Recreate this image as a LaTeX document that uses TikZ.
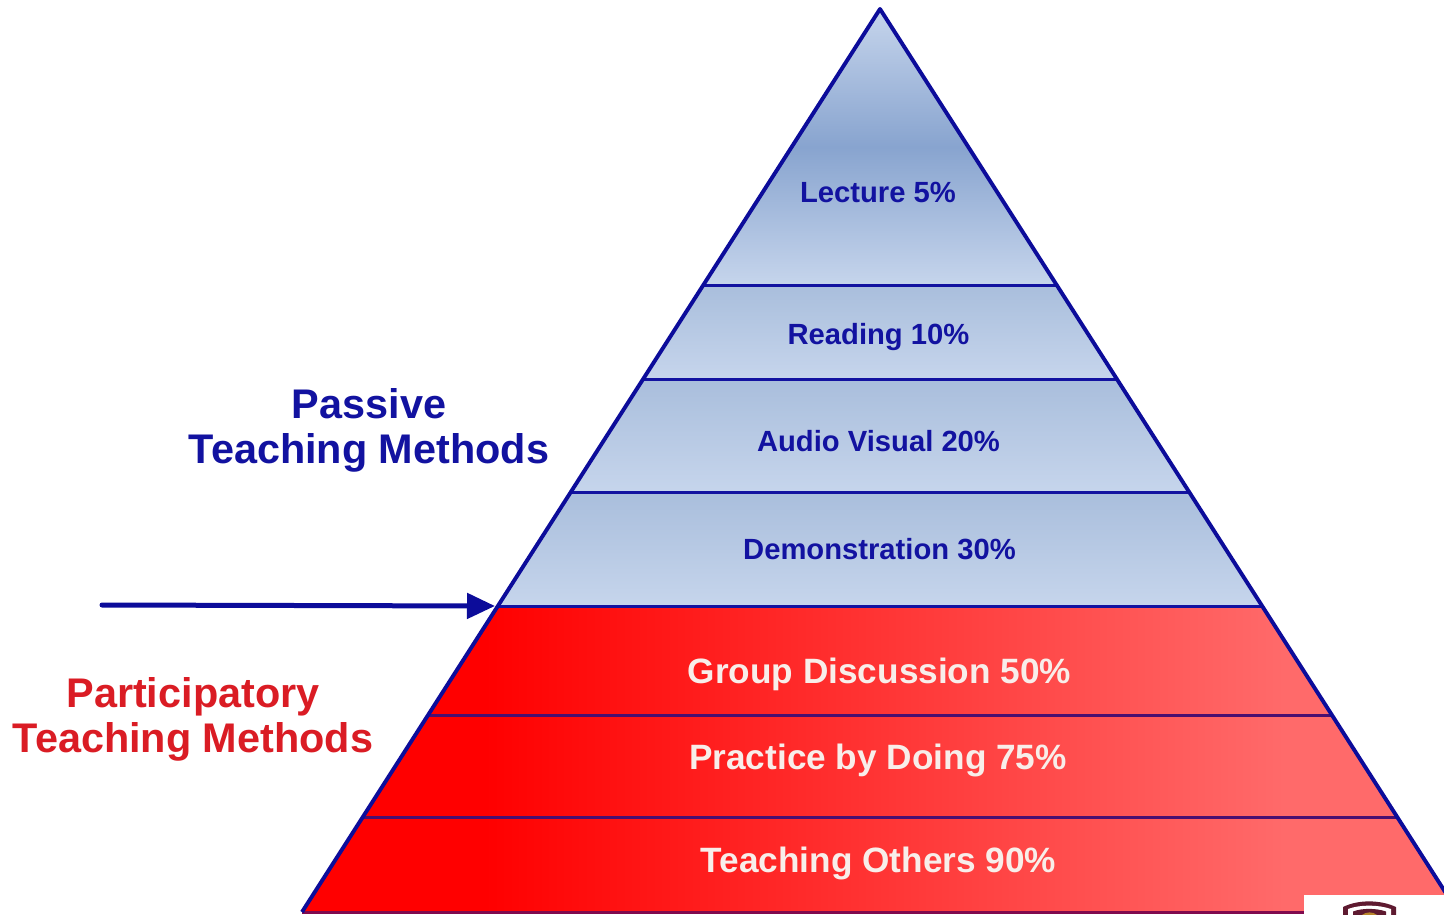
\documentclass[tikz,border=0pt]{standalone}
\usepackage{fontspec}
\setmainfont{Liberation Sans}
\usetikzlibrary{arrows.meta}
\definecolor{navy1}{HTML}{1212A0}
\definecolor{edgeblue}{HTML}{0C0C9A}
\definecolor{redline}{HTML}{4A0F70}
\definecolor{bandtop}{HTML}{A9BEDC}
\definecolor{bandbot}{HTML}{C6D5EC}
\definecolor{bandmid}{HTML}{88A4CF}
\definecolor{pinkend}{HTML}{FF6A6A}
\definecolor{labelred}{HTML}{DA1C24}
\definecolor{softwhite}{HTML}{F8EEEA}
\definecolor{maroon}{HTML}{5E1A30}
\definecolor{gold}{HTML}{B8862B}
\pgfdeclarehorizontalshading{redband}{100bp}{color(0bp)=(red); color(33bp)=(red); color(68bp)=(pinkend); color(100bp)=(pinkend)}
\pgfdeclareverticalshading{capband}{100bp}{color(0bp)=(bandbot); color(25bp)=(bandbot); color(50bp)=(bandmid); color(75bp)=(bandbot); color(100bp)=(bandbot)}
\tikzset{
  x=1pt, y=-1pt,
  band/.style={shade, top color=bandtop, bottom color=bandbot, draw=none},
  divider/.style={draw=navy1, line width=3pt},
  reddivider/.style={draw=redline, line width=3pt},
  edge/.style={draw=edgeblue, line width=3.9pt, line join=round},
  smalltext/.style={anchor=base, font=\bfseries\fontsize{29.2}{32}\selectfont, text=navy1, inner sep=0pt},
  bigtext/.style={anchor=base, font=\bfseries\fontsize{35.2}{40}\selectfont, text=softwhite, inner sep=0pt},
  sidelabel/.style={align=center, font=\bfseries\fontsize{41.4}{45}\selectfont, inner sep=0pt},
}
\begin{document}
\begin{tikzpicture}
\useasboundingbox (0,0) rectangle (1444,914);
\clip (0,0) rectangle (1444,914);
\fill[white] (0,0) rectangle (1444,914);
% corner points
\coordinate (apex) at (880,9);
\coordinate (l1) at (704.4,285); \coordinate (r1) at (1056.6,285);
\coordinate (l2) at (644,379);   \coordinate (r2) at (1117,379);
\coordinate (l3) at (571.5,492); \coordinate (r3) at (1190,492);
\coordinate (l4) at (498,606);   \coordinate (r4) at (1264,606);
\coordinate (l5) at (429,715);   \coordinate (r5) at (1333,715);
\coordinate (l6) at (364,817);   \coordinate (r6) at (1396,817);
\coordinate (l7) at (302,912);   \coordinate (r7) at (1458,912);
% blue bands
\shade[shading=capband] (apex) -- (r1) -- (l1) -- cycle;
\path[band] (l1) -- (r1) -- (r2) -- (l2) -- cycle;
\path[band] (l2) -- (r2) -- (r3) -- (l3) -- cycle;
\path[band] (l3) -- (r3) -- (r4) -- (l4) -- cycle;
% red bands
\begin{scope}
\clip (l4) -- (r4) -- (r7) -- (l7) -- cycle;
\shade[shading=redband] (302,600) rectangle (1444,914);
\end{scope}
% dividers
\draw[divider] (l1) -- (r1);
\draw[divider] (l2) -- (r2);
\draw[divider] (l3) -- (r3);
\draw[divider] (l4) -- (r4);
\draw[reddivider] (l5) -- (r5);
\draw[reddivider] (l6) -- (r6);
\draw[reddivider, draw=redline!70!red] (l7) -- (r7);
% outline
\draw[edge] (l7) -- (apex) -- (r7);
% labels in pyramid
\node[smalltext] (lecture) at (878,202) {Lecture 5\%};
\node[smalltext] (reading) at (878.5,344) {Reading 10\%};
\node[smalltext] (audio) at (878.5,451) {Audio Visual 20\%};
\node[smalltext] (demo) at (879.5,559) {Demonstration 30\%};
\node[bigtext] (group) at (879.5,683) {Group Discussion 50\%};
\node[bigtext] (practice) at (878,769) {Practice by Doing 75\%};
\node[bigtext] (others) at (878.5,872) {Teaching Others 90\%};
% side labels
\node[sidelabel, text=navy1] (passive) at (369,430) {Passive\\Teaching Methods};
\node[sidelabel, text=labelred] (participatory) at (193,719) {Participatory\\Teaching Methods};
% arrow
\coordinate (arrowstart) at (102,605);
\coordinate (arrowend) at (495,606);
\draw[draw=edgeblue, line width=5pt, line cap=round, -{Triangle[length=28pt,width=25pt]}] (arrowstart) -- (arrowend);
% logo corner
\fill[white] (1304,895) rectangle (1444,914);
\fill[maroon] (1343,915) -- (1343,907) .. controls (1358,899.5) and (1380,899.5) .. (1396,907) -- (1396,915) -- cycle;
\fill[white] (1348,915) -- (1348,909) .. controls (1360,904.5) and (1378,904.5) .. (1391,909) -- (1391,915) -- cycle;
\fill[maroon] (1353,915) -- (1353,911.5) .. controls (1362,908) and (1376,908) .. (1386,911.5) -- (1386,915) -- cycle;
\fill[gold] (1362,915) .. controls (1366,911.5) and (1373,911.5) .. (1377,915) -- cycle;
\end{tikzpicture}
\end{document}
